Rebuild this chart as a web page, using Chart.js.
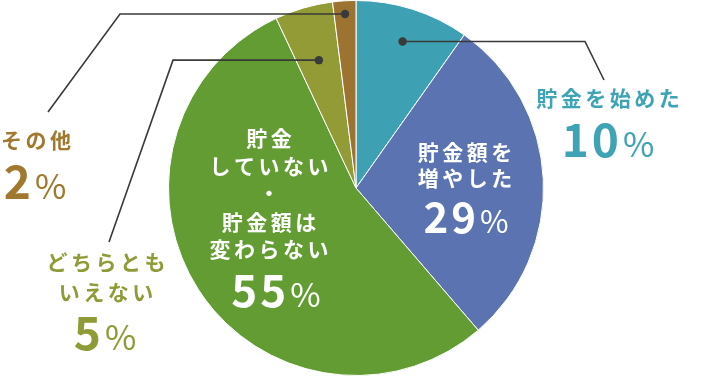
<!DOCTYPE html>
<html><head><meta charset="utf-8">
<script src="https://cdn.jsdelivr.net/npm/chart.js@4.4.1/dist/chart.umd.min.js"></script>
<style>html,body{margin:0;padding:0;background:#fff;}#wrap{width:712px;height:376px;}</style>
</head><body><div id="wrap"><canvas id="c" width="712" height="376"></canvas></div>
<script>
// ---- data ----
const categories = ['貯金を始めた', '貯金額を増やした', '貯金していない・貯金額は変わらない', 'どちらともいえない', 'その他'];
const values = [9.8, 28.9, 54.3, 5.0, 2.0];
const percentLabels = ['10', '29', '55', '5', '2'];
const labelLines = [['貯金を始めた'], ['貯金額を', '増やした'], ['貯金', 'していない', '・', '貯金額は', '変わらない'], ['どちらとも', 'いえない'], ['その他']];
const sliceColors = ['#3ea1b3', '#5b73b0', '#629c33', '#929b35', '#9c7331'];
const textColors = ['#3ea3b5', '#ffffff', '#ffffff', '#8f9b36', '#a0792f'];

// ---- label layout (style/positions) ----
const layout = [
  {x: 608, lineY: [98], pctX: 608, pctY: 157, size: 21, pct: 46, dot: 0.82, path: [[585, 0], [604, 80]]},
  {x: 465, lineY: [152, 178], pctX: 466, pctY: 233, size: 21, pct: 42},
  {x: 269, lineY: [138, 166, 193, 222, 249], pctX: 276, pctY: 307, size: 21, pct: 44},
  {x: 106, lineY: [262, 292], pctX: 105, pctY: 350, size: 21, pct: 46, dot: 0.71, path: [[173, 0], [109, 242]]},
  {x: 36, lineY: [140], pctX: 35, pctY: 199, size: 21, pct: 46, dot: 0.93, path: [[120, 0], [48, 112]]}
];
const FONT = '"Noto Sans CJK JP", "Noto Sans", sans-serif';

function spacedText(ctx, text, cx, cy, spacing) {
  const chars = Array.from(text);
  const widths = chars.map(ch => ctx.measureText(ch).width);
  const total = widths.reduce((a, b) => a + b, 0) + spacing * (chars.length - 1);
  let x = cx - total / 2;
  ctx.textAlign = 'left';
  chars.forEach((ch, i) => { ctx.fillText(ch, x, cy); x += widths[i] + spacing; });
}

const labelPlugin = {
  id: 'labels',
  afterDraw(chart) {
    const ctx = chart.ctx;
    const arcs = chart.getDatasetMeta(0).data;
    ctx.save();
    arcs.forEach((arc, i) => {
      const L = layout[i];
      const p = arc.getProps(['x', 'y', 'startAngle', 'endAngle', 'outerRadius'], true);
      if (L.dot) {
        const mid = (p.startAngle + p.endAngle) / 2;
        const r = p.outerRadius * L.dot;
        const dx = p.x + Math.cos(mid) * r;
        const dy = p.y + Math.sin(mid) * r;
        ctx.strokeStyle = '#3a3a3a';
        ctx.lineWidth = 1.6;
        ctx.beginPath();
        ctx.moveTo(dx, dy);
        ctx.lineTo(L.path[0][0], dy);
        ctx.lineTo(L.path[1][0], L.path[1][1]);
        ctx.stroke();
        ctx.fillStyle = '#3a3a3a';
        ctx.beginPath();
        ctx.arc(dx, dy, 4.2, 0, Math.PI * 2);
        ctx.fill();
      }
      ctx.fillStyle = textColors[i];
      ctx.textBaseline = 'middle';
      ctx.font = 'bold ' + L.size + 'px ' + FONT;
      labelLines[i].forEach((line, j) => spacedText(ctx, line, L.x, L.lineY[j], 3.5));
      // percent
      ctx.textBaseline = 'alphabetic';
      const numFont = 'bold ' + L.pct + 'px ' + FONT;
      const pctFont = '400 ' + Math.round(L.pct * 0.74) + 'px ' + FONT;
      const num = percentLabels[i];
      ctx.font = numFont;
      const nw = ctx.measureText(num).width + 3 * (num.length - 1);
      ctx.font = pctFont;
      const pw = ctx.measureText('%').width;
      const gap = 4;
      const total = nw + gap + pw;
      let x = L.pctX - total / 2;
      ctx.font = numFont;
      ctx.textAlign = 'left';
      Array.from(num).forEach(ch => { ctx.fillText(ch, x, L.pctY); x += ctx.measureText(ch).width + 3; });
      x += gap - 3;
      ctx.font = pctFont;
      ctx.fillText('%', x, L.pctY);
    });
    ctx.restore();
  }
};

new Chart(document.getElementById('c'), {
  type: 'pie',
  data: {
    labels: categories,
    datasets: [{data: values, backgroundColor: sliceColors, borderColor: '#ffffff', borderWidth: 1}]
  },
  options: {
    responsive: false,
    animation: false,
    layout: {padding: 0},
    plugins: {legend: {display: false}, tooltip: {enabled: false}}
  },
  plugins: [labelPlugin]
});
</script>
</body></html>
